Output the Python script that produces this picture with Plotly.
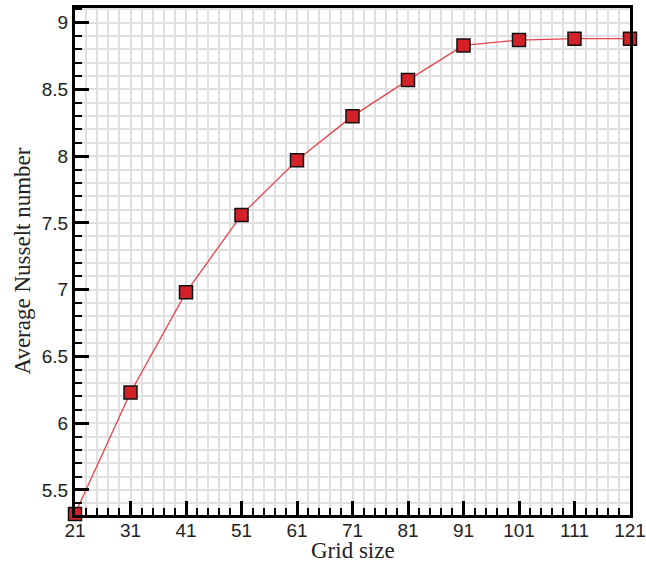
import plotly.graph_objects as go

grid_size = [21, 31, 41, 51, 61, 71, 81, 91, 101, 111, 121]
avg_nusselt = [5.32, 6.23, 6.98, 7.56, 7.97, 8.30, 8.57, 8.83, 8.87, 8.88, 8.88]
x_tick_labels = [str(v) for v in grid_size]
y_tick_values = [5.5, 6, 6.5, 7, 7.5, 8, 8.5, 9]

fig = go.Figure()
fig.add_trace(go.Scatter(
    x=grid_size, y=avg_nusselt, mode="lines+markers",
    line=dict(color="#e4434b", width=1.3),
    marker=dict(symbol="square", size=13, color="#d42027",
                line=dict(color="#111111", width=1.5)),
    cliponaxis=False, showlegend=False,
))

grid_col = "#e0e0e0"
tick_font = dict(family="Liberation Sans, Arial", size=19, color="#222222")
title_font = dict(family="Liberation Serif, Times New Roman", size=23, color="#222222")

fig.update_xaxes(
    range=[21, 121], tickmode="array", tickvals=grid_size, ticktext=x_tick_labels,
    ticks="inside", ticklen=14, tickwidth=2.5, tickcolor="black",
    showline=True, linecolor="black", linewidth=3, mirror=True,
    showgrid=True, gridcolor=grid_col, gridwidth=1.8,
    minor=dict(dtick=2, tick0=21, ticks="inside", ticklen=7, tickwidth=2,
               tickcolor="black", showgrid=True, gridcolor=grid_col, gridwidth=1.8),
    tickfont=tick_font, zeroline=False, automargin=False, ticklabelstandoff=-4,
)
fig.update_yaxes(
    range=[5.312, 9.11], tickmode="array", tickvals=y_tick_values,
    ticks="inside", ticklen=14, tickwidth=2.5, tickcolor="black",
    showline=True, linecolor="black", linewidth=3, mirror=True,
    showgrid=True, gridcolor=grid_col, gridwidth=1.8,
    minor=dict(dtick=0.1, tick0=5.5, ticks="inside", ticklen=7, tickwidth=2,
               tickcolor="black", showgrid=True, gridcolor=grid_col, gridwidth=1.8),
    tickfont=tick_font, zeroline=False, automargin=False,
)
fig.add_annotation(text="Grid size", xref="paper", yref="paper", x=0.5, y=0,
                   xanchor="center", yanchor="top", yshift=-21, showarrow=False,
                   font=title_font)
fig.add_annotation(text="Average Nusselt number", xref="paper", yref="paper", x=0, y=0.5,
                   xanchor="center", yanchor="middle", xshift=-53, textangle=-90,
                   showarrow=False, font=title_font)
fig.update_layout(
    width=646, height=562,
    margin=dict(l=75, r=16, t=8, b=47, pad=0),
    plot_bgcolor="white", paper_bgcolor="white",
)
fig.write_html("out.html", config={"displayModeBar": False},
               post_script="document.body.style.margin='0';document.body.style.padding='0';")
